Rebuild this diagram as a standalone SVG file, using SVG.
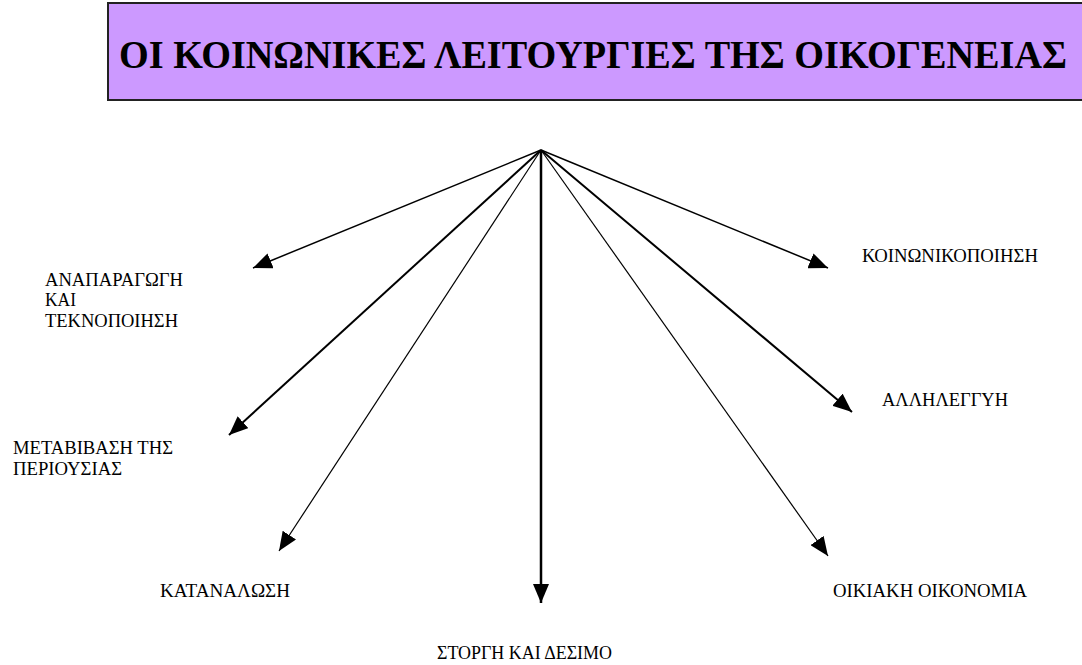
<svg xmlns="http://www.w3.org/2000/svg" width="1082" height="665" viewBox="0 0 1082 665">
<style>
.lbl{font-family:"Liberation Serif","Times New Roman",serif;font-size:18px;fill:#000}
.title{font-family:"Liberation Serif","Times New Roman",serif;font-size:39px;font-weight:bold;fill:#000}
.c{stroke:#000;fill:none}
</style>
<defs>
<marker id="ah" markerUnits="userSpaceOnUse" markerWidth="20" markerHeight="16" viewBox="0 0 20 16" refX="19" refY="8" orient="auto">
<path d="M0,0 L19,8 L0,16 Z" fill="#000"/>
</marker>
</defs>
<rect x="0" y="0" width="1082" height="665" fill="#fff"/>
<g id="title">
<rect x="108" y="3" width="974" height="97" fill="#CC99FF"/>
<path d="M1082,3 H108 V100 H1082" fill="none" stroke="#222" stroke-width="2"/>
<text class="title" x="119" y="68" textLength="948" lengthAdjust="spacingAndGlyphs">ΟΙ ΚΟΙΝΩΝΙΚΕΣ ΛΕΙΤΟΥΡΓΙΕΣ ΤΗΣ ΟΙΚΟΓΕΝΕΙΑΣ</text>
</g>
<g id="connectors">
<line class="c" x1="541" y1="150" x2="253" y2="268" stroke-width="1.5" marker-end="url(#ah)"/>
<line class="c" x1="541" y1="150" x2="229" y2="435" stroke-width="2" marker-end="url(#ah)"/>
<line class="c" x1="541" y1="150" x2="279" y2="551" stroke-width="1.2" marker-end="url(#ah)"/>
<line class="c" x1="541" y1="150" x2="541" y2="603" stroke-width="2.5" marker-end="url(#ah)"/>
<line class="c" x1="541" y1="150" x2="828" y2="556" stroke-width="1.2" marker-end="url(#ah)"/>
<line class="c" x1="541" y1="150" x2="852" y2="412" stroke-width="2" marker-end="url(#ah)"/>
<line class="c" x1="541" y1="150" x2="828" y2="268" stroke-width="1.5" marker-end="url(#ah)"/>
</g>
<g id="n-anaparagogi"><text class="lbl" x="45" y="286" textLength="138" lengthAdjust="spacingAndGlyphs">ΑΝΑΠΑΡΑΓΩΓΗ</text><text class="lbl" x="45" y="306" textLength="31" lengthAdjust="spacingAndGlyphs">ΚΑΙ</text><text class="lbl" x="45" y="327" textLength="133" lengthAdjust="spacingAndGlyphs">ΤΕΚΝΟΠΟΙΗΣΗ</text></g>
<g id="n-metavivasi"><text class="lbl" x="13" y="454" textLength="160" lengthAdjust="spacingAndGlyphs">ΜΕΤΑΒΙΒΑΣΗ ΤΗΣ</text><text class="lbl" x="13" y="475" textLength="109" lengthAdjust="spacingAndGlyphs">ΠΕΡΙΟΥΣΙΑΣ</text></g>
<g id="n-katanalosi"><text class="lbl" x="160" y="597" textLength="130" lengthAdjust="spacingAndGlyphs">ΚΑΤΑΝΑΛΩΣΗ</text></g>
<g id="n-storgi"><text class="lbl" x="437" y="659" textLength="175" lengthAdjust="spacingAndGlyphs">ΣΤΟΡΓΗ ΚΑΙ ΔΕΣΙΜΟ</text></g>
<g id="n-oikiaki"><text class="lbl" x="833" y="597" textLength="194" lengthAdjust="spacingAndGlyphs">ΟΙΚΙΑΚΗ ΟΙΚΟΝΟΜΙΑ</text></g>
<g id="n-allileggyi"><text class="lbl" x="882" y="406" textLength="126" lengthAdjust="spacingAndGlyphs">ΑΛΛΗΛΕΓΓΥΗ</text></g>
<g id="n-koinonikopoiisi"><text class="lbl" x="862" y="262" textLength="176" lengthAdjust="spacingAndGlyphs">ΚΟΙΝΩΝΙΚΟΠΟΙΗΣΗ</text></g>
</svg>
